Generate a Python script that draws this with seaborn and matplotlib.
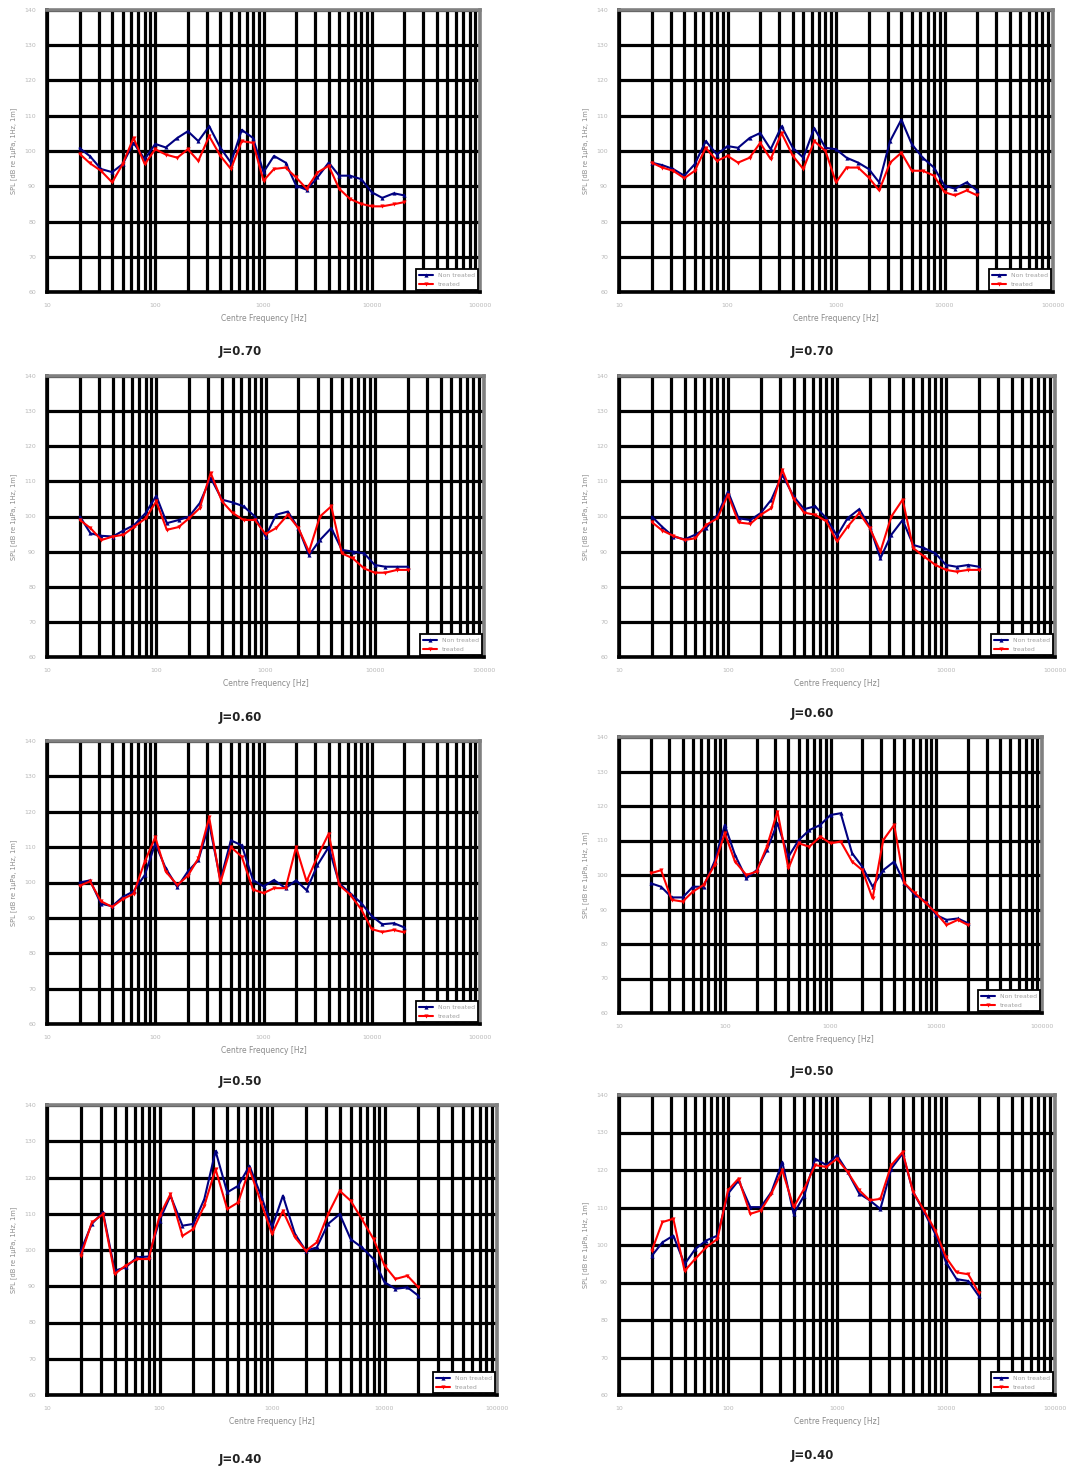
import matplotlib
matplotlib.use("Agg")
import matplotlib.pyplot as plt
import numpy as np
import pandas as pd
import seaborn as sns
from matplotlib.ticker import FixedLocator, LogLocator, NullFormatter

# ---------------- data ----------------
freq = [20, 25, 31.5, 40, 50, 63, 80, 100, 125, 160, 200, 250, 315, 400, 500,
        630, 800, 1000, 1250, 1600, 2000, 2500, 3150, 4000, 5000, 6300, 8000,
        10000, 12500, 16000, 20000]

series_names = ["Non treated", "treated"]
x_ticks = [10, 100, 1000, 10000, 100000]
x_tick_labels = ["10", "100", "1000", "10000", "100000"]
y_ticks = [60, 70, 80, 90, 100, 110, 120, 130, 140]
y_tick_labels = ["60", "70", "80", "90", "100", "110", "120", "130", "140"]
captions = ["J=0.70", "J=0.70", "J=0.60", "J=0.60", "J=0.50", "J=0.50", "J=0.40", "J=0.40"]

# J=0.70 left
j70_left_blue = [100.8, 98.5, 94.9, 94.0, 96.3, 102.3, 97.7, 102.0, 101.0, 103.7, 105.6, 102.8,
                 107.0, 100.9, 96.7, 106.0, 103.7, 94.0, 98.6, 96.7, 90.2, 89.0, 92.5, 96.7,
                 93.0, 93.0, 92.0, 88.3, 86.7, 88.0, 87.4]
j70_left_red = [99.2, 96.5, 94.4, 91.1, 96.3, 103.7, 96.3, 100.5, 99.0, 98.1, 100.5, 97.2,
                104.2, 98.6, 94.9, 102.8, 102.3, 91.6, 94.9, 95.3, 92.5, 89.3, 93.9, 95.8,
                89.3, 86.4, 85.0, 84.3, 84.3, 84.9, 85.5]
# J=0.70 right
j70_right_blue = [96.7, 96.0, 94.9, 93.0, 96.3, 102.8, 99.0, 101.4, 100.9, 103.7, 105.1, 100.5,
                  107.0, 100.9, 98.1, 106.5, 100.9, 100.5, 98.1, 96.7, 94.9, 91.1, 102.8, 108.9,
                  101.9, 98.1, 95.3, 90.2, 89.3, 91.1, 88.8]
j70_right_red = [96.7, 95.3, 94.4, 92.3, 94.4, 100.9, 97.2, 98.6, 96.7, 98.1, 102.3, 97.7,
                 105.1, 98.6, 94.9, 102.8, 100.0, 91.1, 95.3, 95.3, 92.5, 88.8, 96.7, 99.5,
                 94.4, 94.4, 93.0, 88.3, 87.4, 88.8, 87.4]
# J=0.60 left
j60_left_blue = [100.0, 95.2, 94.5, 94.3, 96.0, 97.6, 101.0, 105.9, 98.1, 99.0, 100.0, 103.8,
                 111.0, 104.8, 104.0, 102.9, 100.0, 94.3, 100.5, 101.4, 96.7, 89.0, 93.3, 96.7,
                 90.5, 90.0, 89.5, 86.2, 85.7, 85.7, 85.7]
j60_left_red = [99.0, 96.7, 93.3, 94.3, 94.8, 97.1, 99.5, 104.3, 96.2, 97.0, 99.5, 102.4,
                112.4, 104.3, 101.0, 99.0, 99.0, 95.0, 96.7, 100.5, 96.7, 90.0, 100.0, 102.9,
                89.5, 88.1, 85.2, 84.0, 84.0, 84.8, 84.8]
# J=0.60 right
j60_right_blue = [100.0, 97.0, 94.3, 93.5, 94.8, 96.7, 100.5, 107.1, 99.5, 99.0, 101.0, 104.8,
                  111.9, 105.7, 102.1, 102.9, 99.5, 94.5, 99.5, 102.1, 97.1, 88.1, 94.8, 99.0,
                  91.9, 91.0, 89.5, 86.2, 85.7, 86.2, 85.7]
j60_right_red = [98.4, 96.0, 94.5, 93.3, 93.8, 97.6, 99.5, 106.2, 98.3, 97.9, 100.5, 102.4,
                 113.3, 105.0, 101.1, 100.5, 98.6, 92.9, 97.1, 101.0, 96.7, 90.0, 100.0, 104.8,
                 91.0, 88.6, 86.2, 84.8, 84.3, 84.8, 84.8]
# J=0.50 left
j50_left_blue = [100.0, 100.6, 94.0, 93.3, 95.9, 97.5, 102.1, 111.0, 104.0, 98.7, 103.1, 106.3,
                 116.6, 100.7, 111.9, 110.5, 100.7, 98.9, 100.7, 98.4, 100.6, 97.8, 104.9, 110.0,
                 99.8, 97.0, 94.2, 90.5, 88.2, 88.5, 87.3]
j50_left_red = [99.1, 100.3, 94.7, 93.1, 95.3, 96.8, 105.9, 112.8, 103.1, 99.3, 101.9, 106.8,
                118.4, 100.0, 110.0, 107.3, 98.0, 97.0, 98.4, 98.4, 110.0, 100.3, 107.3, 113.8,
                99.3, 96.6, 92.4, 86.8, 86.0, 86.6, 85.9]
# J=0.50 right
j50_right_blue = [97.6, 96.6, 93.5, 93.5, 96.6, 96.6, 103.9, 114.5, 105.8, 99.0, 101.4, 107.2,
                  115.0, 105.3, 110.1, 113.0, 114.5, 117.4, 117.9, 106.3, 102.4, 96.6, 101.4, 103.9,
                  97.6, 94.2, 92.3, 88.4, 87.0, 87.4, 86.0]
j50_right_red = [100.5, 101.4, 92.8, 92.3, 95.2, 97.1, 102.9, 112.1, 103.9, 100.0, 101.0, 108.2,
                 118.4, 101.9, 109.2, 108.2, 111.1, 109.2, 109.7, 103.9, 101.4, 93.2, 110.1, 114.5,
                 97.6, 94.7, 91.8, 88.9, 85.5, 87.0, 85.5]
# J=0.40 left
j40_left_blue = [99.8, 107.2, 110.4, 94.3, 95.2, 98.0, 98.2, 108.1, 115.0, 106.7, 107.2, 114.0,
                 127.3, 115.9, 117.7, 123.2, 115.0, 106.2, 115.0, 104.4, 99.8, 100.7, 107.2, 109.9,
                 103.0, 100.7, 97.5, 91.1, 89.3, 89.7, 87.4]
j40_left_red = [98.4, 107.6, 109.9, 93.4, 95.7, 97.5, 97.5, 109.4, 115.4, 103.9, 105.8, 112.2,
                122.3, 111.3, 113.1, 122.3, 113.1, 104.4, 110.8, 103.5, 99.8, 102.1, 109.9, 116.3,
                113.6, 108.5, 103.0, 95.7, 92.0, 92.9, 89.7]
# J=0.40 right
j40_right_blue = [97.1, 100.7, 102.5, 94.9, 98.9, 101.2, 102.5, 113.7, 117.2, 110.1, 110.1, 114.1,
                  122.1, 108.3, 113.2, 123.0, 121.3, 123.9, 119.5, 113.7, 111.9, 109.6, 120.4, 124.4,
                  114.1, 108.8, 102.9, 95.4, 90.9, 90.4, 86.4]
j40_right_red = [98.5, 106.1, 107.0, 93.1, 96.3, 99.4, 101.6, 114.6, 117.7, 108.3, 109.2, 113.7,
                 119.9, 110.1, 115.0, 121.3, 120.8, 123.0, 119.5, 114.6, 111.9, 112.3, 121.3, 124.8,
                 114.1, 109.2, 103.8, 96.7, 92.7, 92.2, 87.3]

panels = [
    (j70_left_blue, j70_left_red), (j70_right_blue, j70_right_red),
    (j60_left_blue, j60_left_red), (j60_right_blue, j60_right_red),
    (j50_left_blue, j50_left_red), (j50_right_blue, j50_right_red),
    (j40_left_blue, j40_left_red), (j40_right_blue, j40_right_red),
]

# ---------------- layout (pixels) ----------------
W, H = 1067, 1468
axes_px = [  # left, top, right, bottom
    (47, 10, 480, 292), (619, 10, 1053, 292),
    (47, 376, 484, 657), (619, 376, 1055, 657),
    (47, 741, 480, 1024), (619, 737, 1042, 1013),
    (47, 1105, 497, 1395), (619, 1095, 1055, 1395),
]
caption_px = [(240, 352), (812, 352), (240, 717), (812, 714),
              (240, 1082), (812, 1071), (240, 1460), (812, 1456)]

sns.set_style("white")
plt.rcParams["font.family"] = ["DejaVu Sans"]

fig = plt.figure(figsize=(W / 100, H / 100), dpi=100)
fig.patch.set_facecolor("white")

palette = {series_names[0]: "#000080", series_names[1]: "#ff0000"}
markers = {series_names[0]: "^", series_names[1]: "v"}

for i, ((blue, red), (l, t, r, b)) in enumerate(zip(panels, axes_px)):
    ax = fig.add_axes([l / W, 1 - b / H, (r - l) / W, (b - t) / H])
    df = pd.DataFrame({
        "Frequency": freq + freq,
        "SPL": list(blue) + list(red),
        "Series": [series_names[0]] * len(freq) + [series_names[1]] * len(freq),
    })
    sns.lineplot(data=df, x="Frequency", y="SPL", hue="Series", style="Series",
                 palette=palette, markers=markers, dashes=False, ax=ax,
                 linewidth=1.5, markersize=3, markeredgewidth=0, zorder=3)
    ax.set_xscale("log")
    ax.set_xlim(10, 100000)
    ax.set_ylim(60, 140)

    ax.xaxis.set_major_locator(FixedLocator(x_ticks))
    ax.set_xticklabels(x_tick_labels)
    ax.xaxis.set_minor_locator(LogLocator(base=10, subs=np.arange(2, 10)))
    ax.xaxis.set_minor_formatter(NullFormatter())
    ax.yaxis.set_major_locator(FixedLocator(y_ticks))
    ax.set_yticklabels(y_tick_labels)

    ax.set_axisbelow(True)
    ax.grid(True, which="major", axis="both", color="black", linewidth=2.3)
    ax.grid(True, which="minor", axis="x", color="black", linewidth=2.3)

    ax.tick_params(axis="both", which="major", length=3, width=2, color="black",
                   labelsize=4.5, labelcolor="#b8b8b8", pad=5)
    ax.tick_params(axis="both", which="minor", length=0)

    for side in ["left", "bottom"]:
        ax.spines[side].set_color("black")
        ax.spines[side].set_linewidth(2.6)
    for side in ["top", "right"]:
        ax.spines[side].set_color("#808080")
        ax.spines[side].set_linewidth(2.6)

    ax.set_xlabel("Centre Frequency [Hz]", fontsize=5.5, color="#8a8a8a", labelpad=4)
    ax.set_ylabel("SPL [dB re 1\u00b5Pa, 1Hz, 1m]", fontsize=4.8, color="#8a8a8a", labelpad=5)

    leg = ax.legend(loc="lower right", fontsize=4.4, frameon=True, fancybox=False,
                    edgecolor="black", framealpha=1, borderpad=0.6, handlelength=2.2,
                    borderaxespad=0.25, labelspacing=0.55, title=None)
    leg.get_frame().set_linewidth(1.3)
    for txt in leg.get_texts():
        txt.set_color("#a0a0a0")

    cx, cy = caption_px[i]
    fig.text(cx / W, 1 - cy / H, captions[i], ha="center", va="center",
             fontsize=8.5, fontweight="bold", color="#222222")

fig.savefig("out.png", dpi=100, facecolor="white")
